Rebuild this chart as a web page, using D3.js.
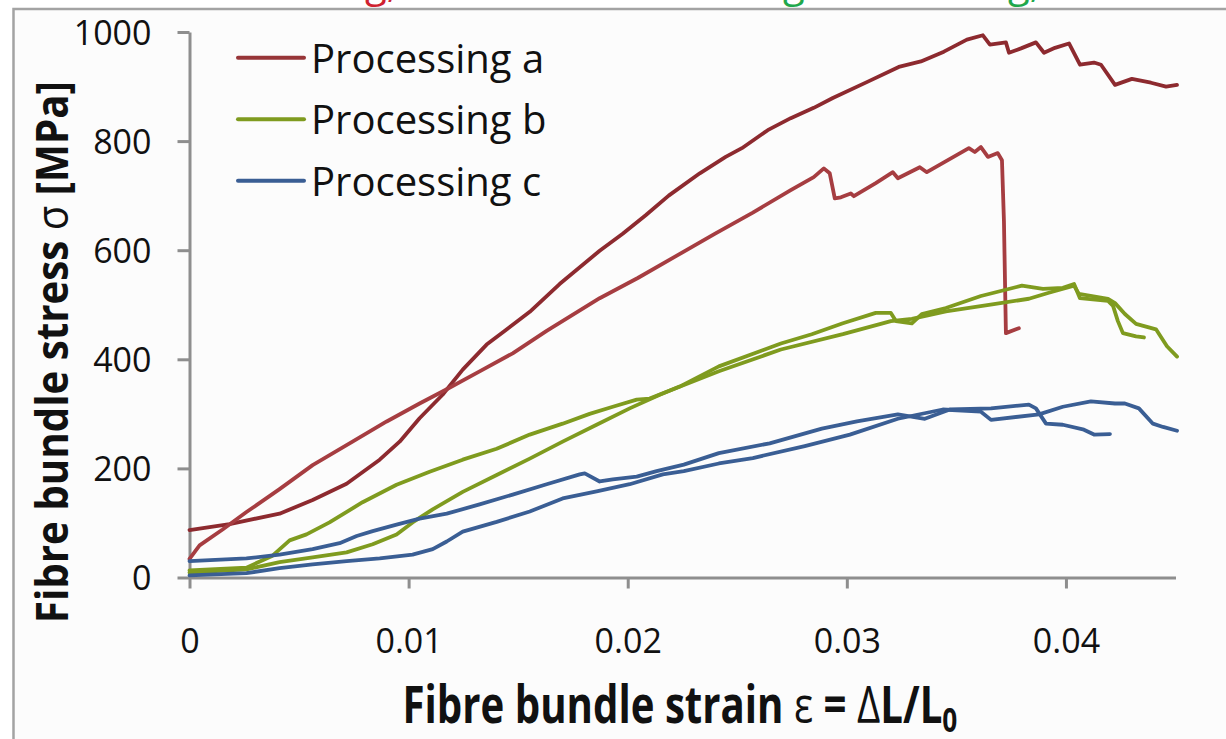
<!DOCTYPE html>
<html>
<head>
<meta charset="utf-8">
<script src="https://cdn.jsdelivr.net/npm/d3@7"></script>
<style>
    html, body { margin: 0; padding: 0; background: #ffffff; }
    svg { display: block; }
</style>
</head>
<body>
<div id="chart"></div>
<script>

// Axis ticks
var strain_ticks = [ 0, 0.01, 0.02, 0.03, 0.04 ];
var strain_tick_labels = [ '0', '0.01', '0.02', '0.03', '0.04' ];
var stress_ticks = [ 0, 200, 400, 600, 800, 1000 ];
var stress_tick_labels = [ '0', '200', '400', '600', '800', '1000' ];

// Legend
var legend_names = [ 'Processing a', 'Processing b', 'Processing c' ];
var legend_colors = [ '#973538', '#7f9b1f', '#3a5e94' ];

// Letters cut off at the top edge of the figure
var cut_letters = [ 'g,', 'g', 'g,' ];
var cut_letter_x = [ 365, 783, 1008 ];
var cut_letter_colors = [ '#cf2230', '#1fa84c', '#1fa84c' ];

// Curves: [ strain, stress (MPa) ]
var processing_a_1 = [
    [ 0, 87 ], [ 0.00183, 98 ], [ 0.00411, 117 ], [ 0.00562, 142 ], [ 0.00717, 172 ],
    [ 0.00868, 216 ], [ 0.00959, 249 ], [ 0.0105, 292 ], [ 0.01155, 335 ], [ 0.01247, 381 ],
    [ 0.01356, 427 ], [ 0.01438, 452 ], [ 0.01553, 487 ], [ 0.01689, 538 ], [ 0.01872, 599 ],
    [ 0.01977, 630 ], [ 0.02082, 664 ], [ 0.02187, 700 ], [ 0.02329, 741 ], [ 0.02447, 771 ],
    [ 0.02521, 787 ], [ 0.02639, 820 ], [ 0.02744, 842 ], [ 0.02849, 861 ], [ 0.02936, 879 ],
    [ 0.03096, 909 ], [ 0.03237, 936 ], [ 0.03338, 946 ], [ 0.03443, 964 ], [ 0.03548, 986 ],
    [ 0.03621, 994 ], [ 0.03653, 977 ], [ 0.03726, 981 ], [ 0.0374, 962 ], [ 0.03795, 970 ],
    [ 0.03863, 981 ], [ 0.039, 962 ], [ 0.0395, 971 ], [ 0.04014, 979 ], [ 0.04064, 940 ],
    [ 0.04128, 944 ], [ 0.0416, 940 ], [ 0.04224, 903 ], [ 0.04301, 914 ], [ 0.04388, 907 ],
    [ 0.04457, 900 ], [ 0.04507, 903 ]
];

var processing_a_2 = [
    [ 0, 34 ], [ 0.00046, 59 ], [ 0.00151, 88 ], [ 0.0026, 120 ], [ 0.00411, 162 ],
    [ 0.00562, 206 ], [ 0.00744, 249 ], [ 0.009, 286 ], [ 0.0105, 319 ], [ 0.01174, 345 ],
    [ 0.01324, 378 ], [ 0.01475, 411 ], [ 0.0163, 452 ], [ 0.01872, 512 ], [ 0.02046, 549 ],
    [ 0.02224, 590 ], [ 0.02397, 630 ], [ 0.02571, 669 ], [ 0.02744, 710 ], [ 0.02849, 734 ],
    [ 0.02895, 750 ], [ 0.02922, 741 ], [ 0.02945, 695 ], [ 0.02973, 697 ], [ 0.03018, 704 ],
    [ 0.03032, 699 ], [ 0.03132, 723 ], [ 0.0321, 743 ], [ 0.03233, 732 ], [ 0.03333, 752 ],
    [ 0.03365, 743 ], [ 0.03443, 761 ], [ 0.03557, 787 ], [ 0.03584, 780 ], [ 0.03612, 789 ],
    [ 0.03644, 771 ], [ 0.03689, 778 ], [ 0.03708, 765 ], [ 0.03717, 654 ], [ 0.03726, 448 ],
    [ 0.03785, 457 ]
];

var processing_b_1 = [
    [ 0, 13 ], [ 0.0026, 18 ], [ 0.00379, 40 ], [ 0.00457, 68 ], [ 0.00534, 79 ],
    [ 0.00639, 101 ], [ 0.0079, 138 ], [ 0.00945, 170 ], [ 0.01096, 194 ], [ 0.01247, 216 ],
    [ 0.01402, 236 ], [ 0.01553, 262 ], [ 0.01703, 282 ], [ 0.01826, 300 ], [ 0.01932, 313 ],
    [ 0.02041, 326 ], [ 0.021, 328 ], [ 0.02416, 378 ], [ 0.02699, 418 ], [ 0.02982, 446 ],
    [ 0.03201, 470 ], [ 0.03297, 474 ], [ 0.03452, 488 ], [ 0.03671, 501 ], [ 0.03831, 511 ],
    [ 0.03922, 522 ], [ 0.04037, 535 ], [ 0.04059, 520 ], [ 0.04192, 511 ], [ 0.04224, 503 ],
    [ 0.04269, 483 ], [ 0.0432, 465 ], [ 0.04411, 455 ], [ 0.04461, 424 ], [ 0.04507, 405 ]
];

var processing_b_2 = [
    [ 0, 9 ], [ 0.0026, 15 ], [ 0.00411, 28 ], [ 0.00562, 37 ], [ 0.00717, 46 ],
    [ 0.00836, 61 ], [ 0.00945, 79 ], [ 0.01018, 101 ], [ 0.0111, 125 ], [ 0.01247, 157 ],
    [ 0.01402, 188 ], [ 0.01553, 218 ], [ 0.01703, 249 ], [ 0.01858, 280 ], [ 0.02009, 310 ],
    [ 0.02146, 335 ], [ 0.02237, 350 ], [ 0.02416, 387 ], [ 0.02699, 429 ], [ 0.0284, 446 ],
    [ 0.02982, 466 ], [ 0.03132, 485 ], [ 0.03201, 485 ], [ 0.03224, 470 ], [ 0.03297, 466 ],
    [ 0.03342, 483 ], [ 0.03452, 494 ], [ 0.03612, 516 ], [ 0.03671, 522 ], [ 0.03799, 535 ],
    [ 0.03895, 529 ], [ 0.03986, 531 ], [ 0.04037, 538 ], [ 0.04064, 512 ], [ 0.04192, 507 ],
    [ 0.04215, 498 ], [ 0.04237, 470 ], [ 0.0426, 448 ], [ 0.0432, 442 ], [ 0.04356, 440 ]
];

var processing_c_1 = [
    [ 0, 30 ], [ 0.0026, 35 ], [ 0.00411, 42 ], [ 0.00562, 52 ], [ 0.00685, 63 ],
    [ 0.00763, 76 ], [ 0.00836, 85 ], [ 0.00945, 97 ], [ 0.0105, 108 ], [ 0.01174, 117 ],
    [ 0.01324, 134 ], [ 0.01475, 152 ], [ 0.0163, 171 ], [ 0.01781, 189 ], [ 0.01804, 191 ],
    [ 0.01872, 176 ], [ 0.01932, 180 ], [ 0.02041, 185 ], [ 0.02132, 195 ], [ 0.02256, 207 ],
    [ 0.02416, 228 ], [ 0.02648, 246 ], [ 0.02886, 273 ], [ 0.03046, 286 ], [ 0.03233, 299 ],
    [ 0.03356, 291 ], [ 0.0347, 308 ], [ 0.03658, 310 ], [ 0.03831, 317 ], [ 0.03863, 310 ],
    [ 0.03909, 282 ], [ 0.03986, 280 ], [ 0.04082, 271 ], [ 0.04128, 262 ], [ 0.04201, 263 ]
];

var processing_c_2 = [
    [ 0, 4 ], [ 0.0026, 8 ], [ 0.00411, 17 ], [ 0.00562, 24 ], [ 0.00717, 30 ],
    [ 0.00868, 35 ], [ 0.01018, 42 ], [ 0.0111, 52 ], [ 0.01174, 66 ], [ 0.01247, 84 ],
    [ 0.01402, 102 ], [ 0.01553, 121 ], [ 0.01703, 145 ], [ 0.01858, 158 ], [ 0.02009, 171 ],
    [ 0.0216, 189 ], [ 0.02256, 195 ], [ 0.02416, 209 ], [ 0.02571, 219 ], [ 0.02808, 241 ],
    [ 0.03014, 262 ], [ 0.03233, 291 ], [ 0.03438, 308 ], [ 0.03612, 304 ], [ 0.03658, 289 ],
    [ 0.03877, 299 ], [ 0.03986, 313 ], [ 0.04114, 323 ], [ 0.04224, 319 ], [ 0.04269, 319 ],
    [ 0.04333, 310 ], [ 0.04397, 282 ], [ 0.04443, 276 ], [ 0.04507, 269 ]
];

var curves = [
    { points: processing_a_1, color: '#8d2a2f' },
    { points: processing_a_2, color: '#a63d41' },
    { points: processing_b_1, color: '#7f9b1f' },
    { points: processing_b_2, color: '#7f9b1f' },
    { points: processing_c_1, color: '#3a5e94' },
    { points: processing_c_2, color: '#3a5e94' }
];

var width = 1226;
var height = 739;
var axis_color = '#8e8e8e';
var font = '"Open Sans", "DejaVu Sans", sans-serif';

var svg = d3.select( '#chart' ).append( 'svg' )
    .attr( 'width', width )
    .attr( 'height', height );

// Cut off title letters above the frame
svg.append( 'g' ).selectAll( 'text' )
    .data( cut_letters )
    .join( 'text' )
    .attr( 'x', function ( d, i ) { return cut_letter_x[ i ]; } )
    .attr( 'y', -3 )
    .attr( 'font-family', font )
    .attr( 'font-size', 40 )
    .attr( 'fill', function ( d, i ) { return cut_letter_colors[ i ]; } )
    .text( function ( d ) { return d; } );

// Frame of the chart area
svg.append( 'rect' )
    .attr( 'x', 13.5 )
    .attr( 'y', 9 )
    .attr( 'width', width )
    .attr( 'height', height )
    .attr( 'fill', '#fcfcfc' );

svg.append( 'path' )
    .attr( 'd', 'M13.5,' + height + 'V9H' + width )
    .attr( 'fill', 'none' )
    .attr( 'stroke', '#a3a3a3' )
    .attr( 'stroke-width', 2.5 );

var x = d3.scaleLinear().domain( [ 0, 0.045 ] ).range( [ 189.5, 1175.5 ] );
var y = d3.scaleLinear().domain( [ 0, 1000 ] ).range( [ 577.5, 32 ] );

// Axes
var x_axis = svg.append( 'g' )
    .attr( 'transform', 'translate(0,' + y( 0 ) + ')' )
    .call( d3.axisBottom( x )
        .tickValues( strain_ticks )
        .tickFormat( function ( d, i ) { return strain_tick_labels[ i ]; } )
        .tickSize( 11 )
        .tickSizeOuter( 0 ) );

var y_axis = svg.append( 'g' )
    .attr( 'transform', 'translate(' + x( 0 ) + ',0)' )
    .call( d3.axisLeft( y )
        .tickValues( stress_ticks )
        .tickFormat( function ( d, i ) { return stress_tick_labels[ i ]; } )
        .tickSize( 12 )
        .tickPadding( 26 )
        .tickSizeOuter( 0 ) );

[ x_axis, y_axis ].forEach( function ( axis ) {

    axis.select( '.domain' )
        .attr( 'stroke', axis_color )
        .attr( 'stroke-width', 3 );

    axis.selectAll( '.tick line' )
        .attr( 'stroke', axis_color )
        .attr( 'stroke-width', 3 );

    axis.selectAll( '.tick text' )
        .attr( 'font-family', font )
        .attr( 'font-size', 34 )
        .attr( 'fill', '#111111' );

});

x_axis.selectAll( '.tick text' )
    .attr( 'y', 75.5 )
    .attr( 'dy', null );

y_axis.selectAll( '.tick text' )
    .attr( 'dy', '0.36em' );

// Curves
var line = d3.line()
    .x( function ( d ) { return x( d[ 0 ] ); } )
    .y( function ( d ) { return y( d[ 1 ] ); } );

svg.append( 'g' ).selectAll( 'path' )
    .data( curves )
    .join( 'path' )
    .attr( 'd', function ( d ) { return line( d.points ); } )
    .attr( 'fill', 'none' )
    .attr( 'stroke', function ( d ) { return d.color; } )
    .attr( 'stroke-width', 3.8 )
    .attr( 'stroke-linejoin', 'round' )
    .attr( 'stroke-linecap', 'round' );

// Legend
var legend = svg.append( 'g' ).selectAll( 'g' )
    .data( legend_names )
    .join( 'g' )
    .attr( 'transform', function ( d, i ) { return 'translate(0,' + ( 57.7 + i * 61.5 ) + ')'; } );

legend.append( 'line' )
    .attr( 'x1', 238 )
    .attr( 'x2', 304 )
    .attr( 'stroke', function ( d, i ) { return legend_colors[ i ]; } )
    .attr( 'stroke-width', 4 )
    .attr( 'stroke-linecap', 'round' );

legend.append( 'text' )
    .attr( 'x', 311 )
    .attr( 'y', 15 )
    .attr( 'font-family', font )
    .attr( 'font-size', 40 )
    .attr( 'fill', '#111111' )
    .text( function ( d ) { return d; } );

// Axis titles, squeezed to the width they have in the figure
var x_title = svg.append( 'text' )
    .attr( 'font-family', font )
    .attr( 'font-size', 52 )
    .attr( 'font-weight', 'bold' )
    .attr( 'fill', '#111111' );

x_title.append( 'tspan' ).text( 'Fibre bundle strain ' );
x_title.append( 'tspan' ).attr( 'font-weight', 'normal' ).text( 'ε' );
x_title.append( 'tspan' ).text( ' = ' );
x_title.append( 'tspan' ).attr( 'font-weight', 'normal' ).text( 'Δ' );
x_title.append( 'tspan' ).text( 'L/L' );
x_title.append( 'tspan' ).attr( 'font-size', 34 ).attr( 'dy', 9 ).text( '0' );

var x_title_width = x_title.node().getBBox().width;
x_title
    .attr( 'x', -x_title_width / 2 )
    .attr( 'transform', 'translate(680,723) scale(' + ( 555 / x_title_width ) + ',1)' );

var y_title = svg.append( 'text' )
    .attr( 'font-family', font )
    .attr( 'font-size', 44 )
    .attr( 'font-weight', 'bold' )
    .attr( 'fill', '#111111' );

y_title.append( 'tspan' ).text( 'Fibre bundle stress ' );
y_title.append( 'tspan' ).attr( 'font-weight', 'normal' ).text( 'σ' );
y_title.append( 'tspan' ).text( ' [MPa]' );

var y_title_width = y_title.node().getBBox().width;
y_title
    .attr( 'x', -y_title_width / 2 )
    .attr( 'transform', 'translate(68,352) rotate(-90) scale(' + ( 542 / y_title_width ) + ',1)' );

</script>
</body>
</html>
